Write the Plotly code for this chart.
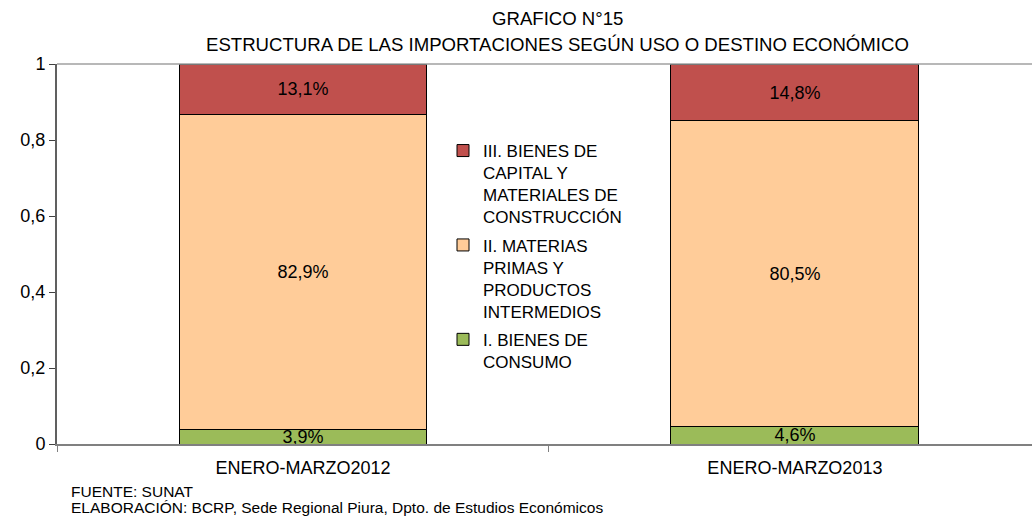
import plotly.graph_objects as go

categories = ["ENERO-MARZO2012", "ENERO-MARZO2013"]
consumo = [0.039, 0.046]
materias = [0.829, 0.805]
capital = [0.131, 0.148]
series_names = [
    "I. BIENES DE<br>CONSUMO",
    "II. MATERIAS<br>PRIMAS Y<br>PRODUCTOS<br>INTERMEDIOS",
    "III. BIENES DE<br>CAPITAL Y<br>MATERIALES DE<br>CONSTRUCCIÓN",
]
groups = ["g1", "g2", "g3"]
ranks = [3, 2, 1]
colors = ["#9BBB59", "#FFCC99", "#C0504D"]
y_ticks = [0, 0.2, 0.4, 0.6, 0.8, 1]
title_lines = ["GRAFICO N°15", "ESTRUCTURA DE LAS IMPORTACIONES SEGÚN USO O DESTINO ECONÓMICO"]
footer_lines = ["FUENTE: SUNAT", "ELABORACIÓN: BCRP, Sede Regional Piura, Dpto. de Estudios Económicos"]

FONT = "Liberation Sans, Arial, sans-serif"
L, T, B, PW, PH = 57, 64, 72, 975, 380

fig = go.Figure()
for vals, name, col, grp, rk in zip([consumo, materias, capital], series_names, colors, groups, ranks):
    fig.add_trace(go.Bar(
        x=categories, y=vals, name=name, legendgroup=grp, legendrank=rk,
        marker=dict(color=col, line=dict(color="#000000", width=1)),
        width=0.504,
        texttemplate="%{y:.1%}", textposition="inside", insidetextanchor="middle",
        textfont=dict(size=18, color="#000000", family=FONT),
        constraintext="none", cliponaxis=False,
    ))

fig.update_layout(
    barmode="stack",
    separators=",.",
    width=1032, height=516,
    paper_bgcolor="white", plot_bgcolor="white",
    margin=dict(l=L, r=0, t=T, b=B),
    font=dict(family=FONT, color="#000000", size=18),
    legend=dict(
        x=(443 - L) / PW, xanchor="left", y=(444 - 133) / PH, yanchor="top",
        traceorder="grouped", valign="top",
        font=dict(size=17, family=FONT, color="#000000"),
        bgcolor="rgba(0,0,0,0)", tracegroupgap=3, itemwidth=30,
    ),
    showlegend=True,
)

fig.update_xaxes(
    range=[-0.5, 1.482],
    showline=True, linecolor="#808080", linewidth=1.5,
    ticks="outside", tickson="boundaries", ticklen=6, tickcolor="#808080",
    tickfont=dict(size=18, family=FONT),
    ticklabelstandoff=7,
    showgrid=False, automargin=False,
)
fig.update_yaxes(
    range=[0, 1], tickvals=y_ticks,
    showline=True, linecolor="#606060", linewidth=2,
    ticks="outside", ticklen=6, tickcolor="#404040",
    tickfont=dict(size=18, family=FONT),
    showgrid=False, zeroline=False, automargin=False,
)

fig.add_shape(type="line", xref="paper", yref="paper", x0=0, x1=1, y0=1, y1=1,
              line=dict(color="#A0A0A0", width=1.5))

for txt, ypx in zip(title_lines, [19, 44]):
    fig.add_annotation(text=txt, xref="paper", yref="paper",
                       x=(557 - L) / PW, y=1 + (T - ypx) / PH, xanchor="center", yanchor="middle",
                       showarrow=False, font=dict(size=18.6, family=FONT))

for txt, ypx in zip(footer_lines, [491, 507]):
    fig.add_annotation(text=txt, xref="paper", yref="paper",
                       x=(69 - L) / PW, y=-(ypx - 444) / PH, xanchor="left", yanchor="middle",
                       showarrow=False, font=dict(size=15.5, family=FONT))

fig.write_html("out.html", config={"displayModeBar": False})

with open("out.html", "r", encoding="utf-8") as f:
    html = f.read()
html = html.replace("<body>", '<body style="margin:0;padding:0;overflow:hidden">', 1)
with open("out.html", "w", encoding="utf-8") as f:
    f.write(html)
